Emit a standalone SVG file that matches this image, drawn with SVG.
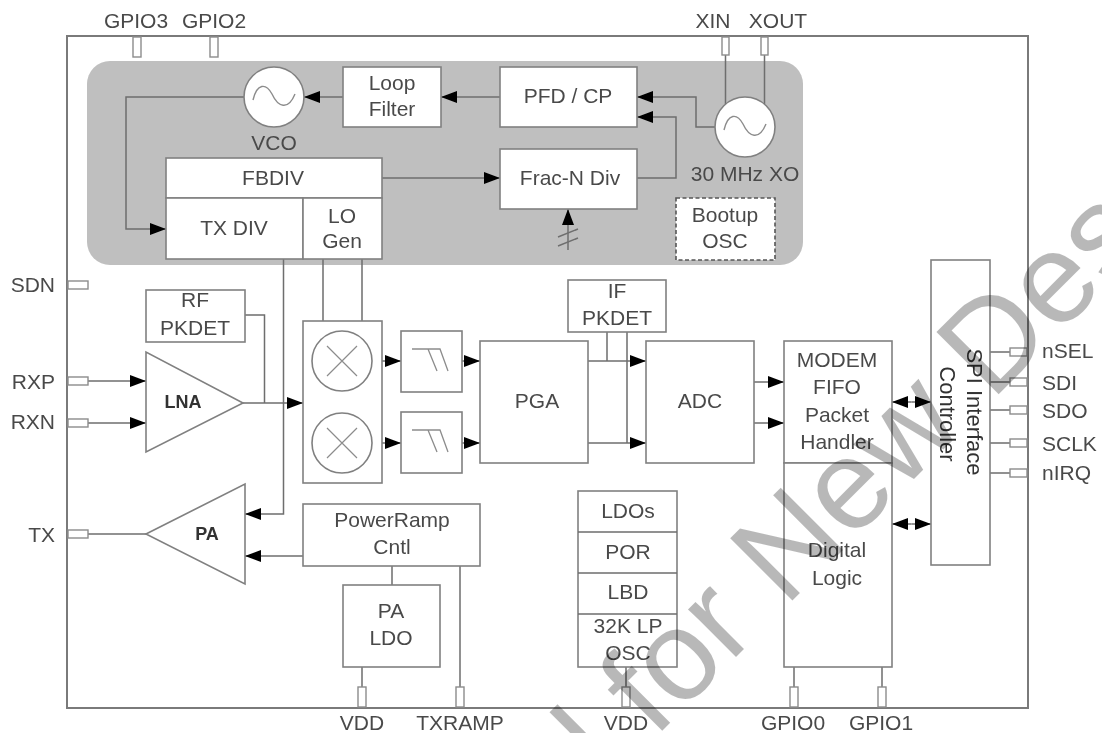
<svg xmlns="http://www.w3.org/2000/svg" width="1102" height="733" viewBox="0 0 1102 733">
<style>
.b{fill:#fff;stroke:#808080;stroke-width:1.6}
.p{fill:#fff;stroke:#8c8c8c;stroke-width:1.4}
.l{fill:none;stroke:#6e6e6e;stroke-width:1.5}
.g{fill:none;stroke:#8c8c8c;stroke-width:1.2}
.a{marker-end:url(#ah)}
text{font-family:"Liberation Sans",Arial,sans-serif;font-size:21px;fill:#4a4a4a;text-anchor:middle}
.e{text-anchor:end}
.s{text-anchor:start}
.v{font-size:22px;fill:#333}
.k{font-weight:bold;font-size:18px;fill:#333}
.w{font-size:128px;fill:#000;fill-opacity:.28;text-anchor:start}
</style>
<defs>
<marker id="ah" viewBox="0 0 16 12" refX="16" refY="6" markerWidth="16" markerHeight="12" markerUnits="userSpaceOnUse" orient="auto"><path d="M0 0L16 6L0 12Z" fill="#000"/></marker>
<filter id="soft" x="0" y="0" width="100%" height="100%"><feGaussianBlur stdDeviation="0.55"/></filter>
<path id="sine" d="M-21 3C-17 -14 -8 -14 -2 -3C4 10 14 14 21 -3" fill="none" stroke="#8c8c8c" stroke-width="1.4"/>
<g id="lpf"><path d="M12 18H40L48 40M28 18L37 40" fill="none" stroke="#8c8c8c" stroke-width="1.3"/></g>
<g id="xm"><circle r="30" class="b"/><path d="M-15 -15L15 15M-15 15L15 -15" class="g"/></g>
</defs>
<rect width="1102" height="733" fill="#fff"/>
<g filter="url(#soft)">
<rect id="chip" x="67" y="36" width="961" height="672" fill="#fff" stroke="#7a7a7a" stroke-width="2"/>
<rect id="pll-bg" x="87" y="61" width="716" height="204" rx="23" fill="#bfbfbf"/>

<g id="connectors">
<path class="l a" d="M343 97H304"/>
<path class="l a" d="M500 97H441"/>
<path class="l a" d="M244 97H126V229H166" stroke-width="2"/>
<path class="l a" d="M382 178H500"/>
<path class="l a" d="M715 127H696V97H637"/>
<path class="l a" d="M637 178H676V117H637"/>
<path class="l a" d="M568 250V209"/>
<path class="l" d="M558 237L578 229M558 246L578 238"/>
<path class="l" d="M725.500 55V104M764.500 55V104"/>
<path class="l" d="M245 315H264.500V403"/>
<path class="l a" d="M88 381H146"/>
<path class="l a" d="M88 423H146"/>
<path class="l a" d="M243 403H303"/>
<path class="l a" d="M283.500 259V514H245"/>
<path class="l" d="M88 534H146" stroke-width="2"/>
<path class="l a" d="M303 556H245"/>
<path class="l" d="M323 259V321M362 259V321"/>
<path class="l a" d="M382 361H401"/>
<path class="l a" d="M382 443H401"/>
<path class="l a" d="M462 361H480"/>
<path class="l a" d="M462 443H480"/>
<path class="l a" d="M588 361H646"/>
<path class="l a" d="M588 443H646"/>
<path class="l" d="M607 332V361M627 332V443"/>
<path class="l a" d="M754 382H784"/>
<path class="l a" d="M754 423H784"/>
<path class="l a" d="M911.500 402H892"/>
<path class="l a" d="M911.500 402H931"/>
<path class="l a" d="M911.500 524H892"/>
<path class="l a" d="M911.500 524H931"/>
<path class="l" d="M392 566V585M460 566V688M362 667V688M626 667V688M794 667V688M882 667V688"/>
<path class="l" d="M990 352H1010M990 382H1010M990 410H1010M990 443H1010M990 473H1010"/>
</g>

<g id="pins">
<rect class="p" x="133" y="37" width="8" height="20"/><rect class="p" x="210" y="37" width="8" height="20"/>
<rect class="p" x="722" y="37" width="7" height="18"/><rect class="p" x="761" y="37" width="7" height="18"/>
<rect class="p" x="68" y="281" width="20" height="8"/><rect class="p" x="68" y="377" width="20" height="8"/>
<rect class="p" x="68" y="419" width="20" height="8"/><rect class="p" x="68" y="530" width="20" height="8"/>
<rect class="p" x="358" y="687" width="8" height="20"/><rect class="p" x="456" y="687" width="8" height="20"/>
<rect class="p" x="622" y="687" width="8" height="20"/><rect class="p" x="790" y="687" width="8" height="20"/>
<rect class="p" x="878" y="687" width="8" height="20"/>
<rect class="p" x="1010" y="348" width="17" height="8"/><rect class="p" x="1010" y="378" width="17" height="8"/>
<rect class="p" x="1010" y="406" width="17" height="8"/><rect class="p" x="1010" y="439" width="17" height="8"/>
<rect class="p" x="1010" y="469" width="17" height="8"/>
</g>

<g id="vco"><circle class="b" cx="274" cy="97" r="30"/><use href="#sine" x="274" y="97"/><text x="274" y="150">VCO</text></g>
<g id="loop-filter"><rect class="b" x="343" y="67" width="98" height="60"/><text x="392" y="90">Loop</text><text x="392" y="116">Filter</text></g>
<g id="pfd-cp"><rect class="b" x="500" y="67" width="137" height="60"/><text x="568" y="103">PFD / CP</text></g>
<g id="xo"><circle class="b" cx="745" cy="127" r="30"/><use href="#sine" x="745" y="127"/><text x="745" y="181">30 MHz XO</text></g>
<g id="frac-n"><rect class="b" x="500" y="149" width="137" height="60"/><text x="570" y="185">Frac-N Div</text></g>
<g id="fbdiv"><rect class="b" x="166" y="158" width="216" height="40"/><text x="273" y="185">FBDIV</text></g>
<g id="tx-div"><rect class="b" x="166" y="198" width="137" height="61"/><text x="234" y="235">TX DIV</text></g>
<g id="lo-gen"><rect class="b" x="303" y="198" width="79" height="61"/><text x="342" y="223">LO</text><text x="342" y="248">Gen</text></g>
<g id="bootup"><rect x="676" y="198" width="99" height="62" fill="#fff" stroke="#555" stroke-width="1.600" stroke-dasharray="4 2.500"/><text x="725" y="222">Bootup</text><text x="725" y="248">OSC</text></g>
<g id="rf-pkdet"><rect class="b" x="146" y="290" width="99" height="52"/><text x="195" y="307">RF</text><text x="195" y="335">PKDET</text></g>
<g id="lna"><path class="b" d="M146 352V452L243 403Z"/><text class="k" x="183" y="408">LNA</text></g>
<g id="pa"><path class="b" d="M146 534L245 484V584Z"/><text class="k" x="207" y="540">PA</text></g>
<g id="mixers"><rect class="b" x="303" y="321" width="79" height="162"/><use href="#xm" x="342" y="361"/><use href="#xm" x="342" y="443"/></g>
<g id="filter-i"><rect class="b" x="401" y="331" width="61" height="61"/><use href="#lpf" x="400" y="331"/></g>
<g id="filter-q"><rect class="b" x="401" y="412" width="61" height="61"/><use href="#lpf" x="400" y="412"/></g>
<g id="pga"><rect class="b" x="480" y="341" width="108" height="122"/><text x="537" y="408">PGA</text></g>
<g id="if-pkdet"><rect class="b" x="568" y="280" width="98" height="52"/><text x="617" y="298">IF</text><text x="617" y="325">PKDET</text></g>
<g id="adc"><rect class="b" x="646" y="341" width="108" height="122"/><text x="700" y="408">ADC</text></g>
<g id="modem"><rect class="b" x="784" y="341" width="108" height="122"/><text x="837" y="367">MODEM</text><text x="837" y="394">FIFO</text><text x="837" y="422">Packet</text><text x="837" y="449">Handler</text></g>
<g id="digital"><rect class="b" x="784" y="463" width="108" height="204"/><text x="837" y="557">Digital</text><text x="837" y="585">Logic</text></g>
<g id="spi"><rect class="b" x="931" y="260" width="59" height="305"/><text class="v" transform="translate(967 412) rotate(90)">SPI Interface</text><text class="v" transform="translate(940 414) rotate(90)">Controller</text></g>
<g id="powerramp"><rect class="b" x="303" y="504" width="177" height="62"/><text x="392" y="527">PowerRamp</text><text x="392" y="554">Cntl</text></g>
<g id="pa-ldo"><rect class="b" x="343" y="585" width="97" height="82"/><text x="391" y="618">PA</text><text x="391" y="645">LDO</text></g>
<g id="power"><rect class="b" x="578" y="491" width="99" height="176"/><path class="l" d="M578 532H677M578 573H677M578 614H677"/><text x="628" y="518">LDOs</text><text x="628" y="559">POR</text><text x="628" y="599">LBD</text><text x="628" y="633">32K LP</text><text x="628" y="660">OSC</text></g>

<g id="pin-labels">
<text x="136" y="28">GPIO3</text><text x="214" y="28">GPIO2</text><text x="713" y="28">XIN</text><text x="778" y="28">XOUT</text>
<text class="e" x="55" y="292">SDN</text><text class="e" x="55" y="389">RXP</text><text class="e" x="55" y="429">RXN</text><text class="e" x="55" y="542">TX</text>
<text x="362" y="730">VDD</text><text x="460" y="730">TXRAMP</text><text x="626" y="730">VDD</text><text x="793" y="730">GPIO0</text><text x="881" y="730">GPIO1</text>
<text class="s" x="1042" y="358">nSEL</text><text class="s" x="1042" y="390">SDI</text><text class="s" x="1042" y="418">SDO</text><text class="s" x="1042" y="451">SCLK</text><text class="s" x="1042" y="480">nIRQ</text>
</g>
<text id="watermark" class="w" transform="translate(609 784) rotate(-45)">l for New Des</text>
</g>
</svg>
